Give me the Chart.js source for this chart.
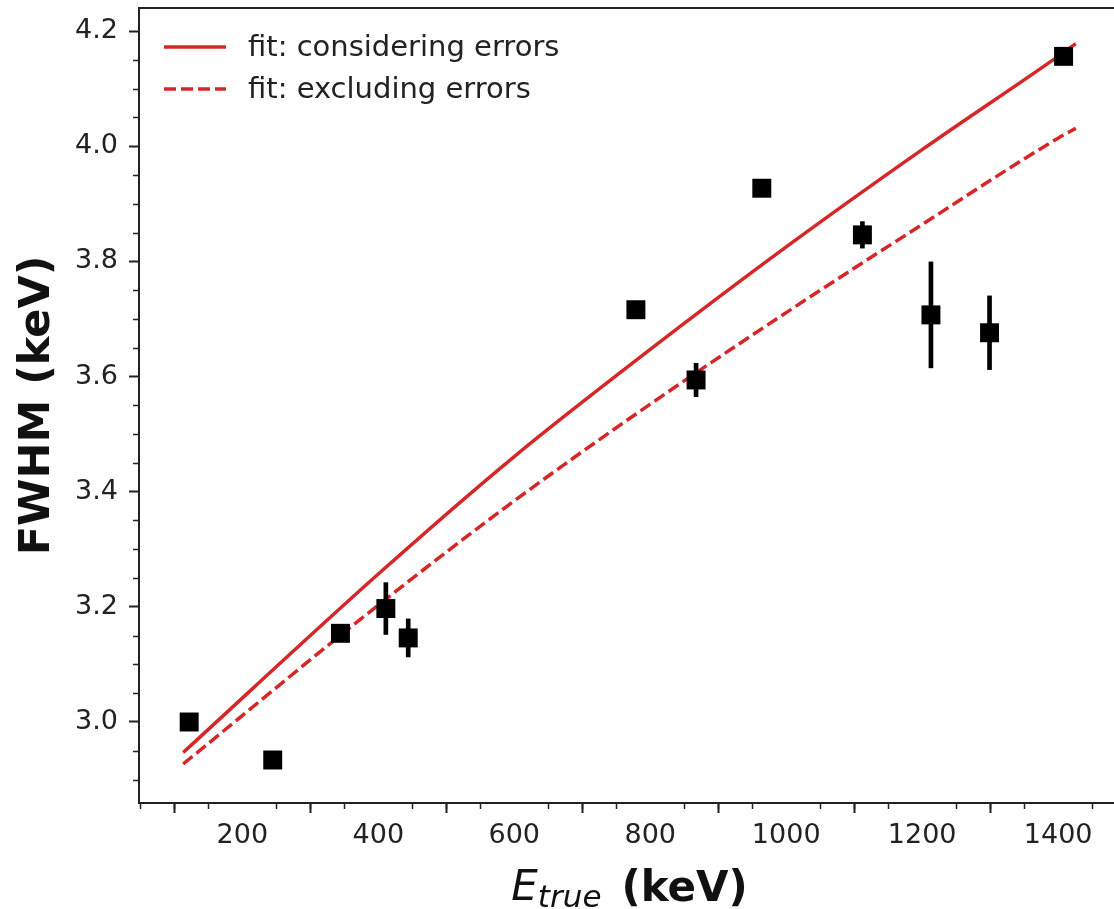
<!DOCTYPE html>
<html>
<head>
<meta charset="utf-8">
<script src="https://cdn.jsdelivr.net/npm/chart.js@4.4.0/dist/chart.umd.min.js"></script>
<style>
    html, body { margin: 0; padding: 0; background: #fff; overflow: hidden; }
    #wrap { width: 1114px; height: 909px; overflow: hidden; }
    canvas { display: block; }
</style>
</head>
<body>
<div id="wrap"><canvas id="chart" width="1126" height="909"></canvas></div>
<script>
// measured peaks (Eu-152 lines)
const energies = [121.8, 244.7, 344.3, 411.1, 444.0, 778.9, 867.4, 964.1, 1112.1, 1212.9, 1299.1, 1408.0];
const fwhm = [3.000, 2.934, 3.154, 3.197, 3.146, 3.716, 3.594, 3.927, 3.846, 3.707, 3.676, 4.156];
const fwhmErr = [0.005, 0.005, 0.008, 0.045, 0.033, 0.008, 0.029, 0.012, 0.023, 0.092, 0.064, 0.012];

// fit curves
const fitEnergies = [113, 400, 600, 800, 1000, 1200, 1400, 1426];
const fitWithErrors = [2.947, 3.257, 3.461, 3.647, 3.825, 3.994, 4.156, 4.178];
const fitWithoutErrors = [2.927, 3.203, 3.384, 3.552, 3.711, 3.864, 4.014, 4.031];

const xTicks = [200, 400, 600, 800, 1000, 1200, 1400];
const yTicks = [3.0, 3.2, 3.4, 3.6, 3.8, 4.0, 4.2];

const RED = '#d62728';
const INK = '#222';
const FONT = 'DejaVu Sans';

const decorations = {
    id: 'decorations',
    afterDraw(chart) {
        const { ctx, chartArea: a, scales: { x, y } } = chart;
        ctx.save();

        // top and right spines
        ctx.strokeStyle = INK;
        ctx.lineWidth = 2;
        ctx.beginPath();
        ctx.moveTo(a.left, a.top);
        ctx.lineTo(a.right, a.top);
        ctx.lineTo(a.right, a.bottom);
        ctx.stroke();

        // minor ticks
        ctx.lineWidth = 1.5;
        ctx.beginPath();
        for (let v = 50; v < x.max; v += 50) {
            if (v % 200 === 0) continue;
            const px = Math.round(x.getPixelForValue(v)) + 0.5;
            ctx.moveTo(px, a.bottom);
            ctx.lineTo(px, a.bottom + 6);
        }
        for (let k = 58; k <= 84; k++) {
            if (k % 4 === 0) continue;
            const py = Math.round(y.getPixelForValue(k / 20)) + 0.5;
            ctx.moveTo(a.left, py);
            ctx.lineTo(a.left - 6, py);
        }
        ctx.stroke();

        // legend
        ctx.font = `29px "${FONT}"`;
        ctx.textBaseline = 'middle';
        ctx.textAlign = 'left';
        chart.data.datasets.slice(0, 2).forEach((ds, i) => {
            const ly = 47 + i * 42;
            ctx.strokeStyle = ds.borderColor;
            ctx.lineWidth = ds.borderWidth;
            ctx.setLineDash(ds.borderDash || []);
            ctx.beginPath();
            ctx.moveTo(164, ly);
            ctx.lineTo(226, ly);
            ctx.stroke();
            ctx.fillStyle = INK;
            ctx.fillText(ds.label, 248, ly + 1);
        });
        ctx.setLineDash([]);

        // x axis title: E_true (keV)
        const parts = [
            { text: 'E', font: `italic 42px "${FONT}"`, dy: 0, gap: 0 },
            { text: 'true', font: `italic 31px "${FONT}"`, dy: 7, gap: 20 },
            { text: '(keV)', font: `bold 42px "${FONT}"`, dy: 1, gap: 0 },
        ];
        let total = 0;
        parts.forEach(p => { ctx.font = p.font; p.w = ctx.measureText(p.text).width; total += p.w + p.gap; });
        let tx = (a.left + a.right) / 2 - total / 2;
        ctx.fillStyle = '#111';
        ctx.textBaseline = 'alphabetic';
        parts.forEach(p => {
            ctx.font = p.font;
            ctx.fillText(p.text, tx, 900 + p.dy);
            tx += p.w + p.gap;
        });

        ctx.restore();
    }
};

new Chart(document.getElementById('chart'), {
    type: 'scatter',
    data: {
        datasets: [
            {
                type: 'line',
                label: 'fit: considering errors',
                data: fitEnergies.map((e, i) => ({ x: e, y: fitWithErrors[i] })),
                borderColor: RED,
                borderWidth: 3.5,
                pointRadius: 0,
                cubicInterpolationMode: 'monotone',
                order: 3,
            },
            {
                type: 'line',
                label: 'fit: excluding errors',
                data: fitEnergies.map((e, i) => ({ x: e, y: fitWithoutErrors[i] })),
                borderColor: RED,
                borderWidth: 3.5,
                borderDash: [12, 5],
                pointRadius: 0,
                cubicInterpolationMode: 'monotone',
                order: 2,
            },
            {
                type: 'bar',
                label: 'error',
                data: energies.map((e, i) => ({ x: e, y: [fwhm[i] - fwhmErr[i], fwhm[i] + fwhmErr[i]] })),
                backgroundColor: '#000',
                borderWidth: 0,
                barThickness: 4,
                order: 1,
            },
            {
                label: 'data',
                data: energies.map((e, i) => ({ x: e, y: fwhm[i] })),
                pointStyle: 'rect',
                pointRadius: 13.4,
                backgroundColor: '#000',
                borderWidth: 0,
                order: 0,
            },
        ],
    },
    options: {
        responsive: false,
        animation: false,
        events: [],
        layout: { autoPadding: false, padding: { top: 8, right: 6, left: 0, bottom: 0 } },
        plugins: {
            legend: { display: false },
            tooltip: { enabled: false },
        },
        scales: {
            x: {
                type: 'linear',
                min: 48,
                max: 1491,
                offset: false,
                afterBuildTicks: (s) => { s.ticks = xTicks.map(v => ({ value: v })); },
                afterFit: (s) => { s.height = 106; s.paddingLeft = 0; s.paddingRight = 0; s.paddingTop = 0; s.paddingBottom = 0; },
                grid: { drawOnChartArea: false, drawTicks: true, tickLength: 10, tickWidth: 2, tickColor: INK },
                border: { display: true, color: INK, width: 2 },
                ticks: {
                    color: INK,
                    font: { family: FONT, size: 27 },
                    padding: 7,
                    maxRotation: 0,
                    autoSkip: false,
                    callback: (v) => String(v),
                },
            },
            y: {
                type: 'linear',
                min: 2.8593,
                max: 4.240,
                afterBuildTicks: (s) => { s.ticks = yTicks.map(v => ({ value: v })); },
                afterFit: (s) => { s.width = 139; s.paddingTop = 0; s.paddingBottom = 0; s.paddingLeft = 0; s.paddingRight = 0; },
                grid: { drawOnChartArea: false, drawTicks: true, tickLength: 10, tickWidth: 2, tickColor: INK },
                border: { display: true, color: INK, width: 2 },
                ticks: {
                    color: INK,
                    font: { family: FONT, size: 27 },
                    padding: 11,
                    autoSkip: false,
                    callback: (v) => Number(v).toFixed(1),
                },
                title: {
                    display: true,
                    text: 'FWHM (keV)',
                    color: '#111',
                    font: { family: FONT, size: 43, weight: 'bold' },
                    padding: { top: 12, bottom: 0 },
                },
            },
        },
    },
    plugins: [decorations],
});
</script>
</body>
</html>
